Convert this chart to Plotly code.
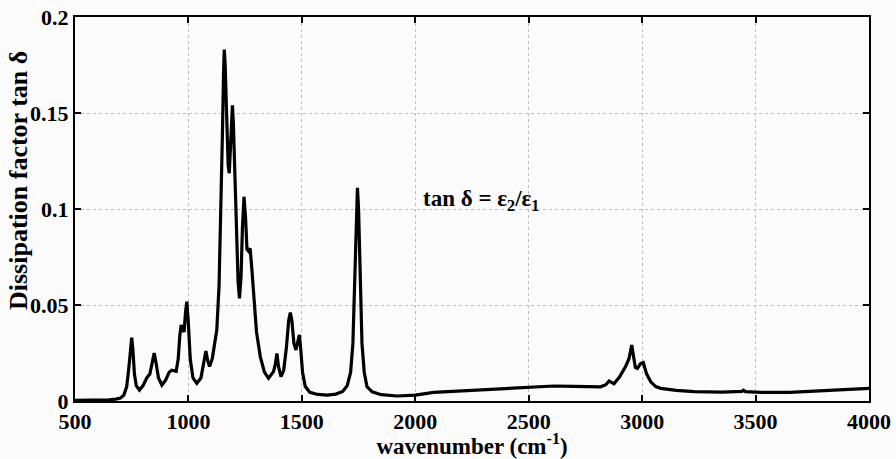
import plotly.graph_objects as go

wavenumber = [500, 600, 650, 680, 700, 715, 728, 738, 745, 750, 755, 762, 770, 784, 800, 816, 830, 840, 849, 857, 868, 883, 900, 915, 927, 946, 955, 962, 968, 976, 981, 987, 993, 999, 1008, 1020, 1037, 1055, 1068, 1077, 1085, 1093, 1105, 1115, 1125, 1135, 1143, 1150, 1155, 1158, 1162, 1168, 1175, 1180, 1186, 1191, 1194, 1198, 1205, 1212, 1219, 1225, 1232, 1238, 1245, 1252, 1258, 1265, 1272, 1280, 1290, 1300, 1317, 1335, 1353, 1375, 1383, 1390, 1397, 1408, 1420, 1432, 1442, 1449, 1456, 1465, 1474, 1482, 1489, 1495, 1503, 1515, 1535, 1570, 1611, 1650, 1680, 1700, 1715, 1725, 1733, 1740, 1745, 1750, 1757, 1765, 1775, 1787, 1810, 1850, 1920, 2000, 2081, 2200, 2376, 2500, 2611, 2700, 2817, 2840, 2854, 2876, 2900, 2927, 2942, 2954, 2962, 2970, 2979, 2993, 3005, 3020, 3038, 3060, 3082, 3150, 3229, 3350, 3440, 3447, 3455, 3523, 3650, 3818, 3900, 4000]
tan_delta = [0.0003, 0.0004, 0.0006, 0.0010, 0.0015, 0.0030, 0.0075, 0.018, 0.029, 0.033, 0.027, 0.014, 0.008, 0.0057, 0.008, 0.012, 0.014, 0.020, 0.025, 0.020, 0.012, 0.0083, 0.011, 0.015, 0.016, 0.0155, 0.022, 0.034, 0.0396, 0.037, 0.036, 0.046, 0.0517, 0.042, 0.022, 0.012, 0.0092, 0.012, 0.020, 0.026, 0.021, 0.018, 0.022, 0.029, 0.037, 0.060, 0.095, 0.14, 0.172, 0.183, 0.175, 0.145, 0.123, 0.1186, 0.135, 0.152, 0.154, 0.145, 0.118, 0.085, 0.062, 0.0535, 0.065, 0.090, 0.1064, 0.095, 0.079, 0.078, 0.0795, 0.068, 0.050, 0.036, 0.023, 0.015, 0.0118, 0.0153, 0.019, 0.0248, 0.018, 0.0127, 0.016, 0.028, 0.042, 0.046, 0.042, 0.030, 0.0266, 0.031, 0.0344, 0.027, 0.015, 0.0075, 0.0045, 0.0034, 0.0031, 0.0036, 0.0050, 0.0080, 0.015, 0.030, 0.060, 0.098, 0.111, 0.100, 0.062, 0.030, 0.015, 0.0075, 0.0048, 0.0033, 0.0026, 0.0031, 0.0045, 0.0052, 0.0062, 0.0068, 0.0078, 0.0076, 0.0074, 0.0085, 0.0104, 0.0090, 0.0125, 0.018, 0.022, 0.0292, 0.023, 0.0175, 0.0170, 0.0195, 0.0200, 0.014, 0.010, 0.0075, 0.0066, 0.0055, 0.0049, 0.0046, 0.0050, 0.0056, 0.0049, 0.0045, 0.0045, 0.0054, 0.0060, 0.0066]

x_ticks = [500, 1000, 1500, 2000, 2500, 3000, 3500, 4000]
x_tick_labels = ["500", "1000", "1500", "2000", "2500", "3000", "3500", "4000"]
y_ticks = [0, 0.05, 0.1, 0.15, 0.2]
y_tick_labels = ["0", "0.05", "0.1", "0.15", "0.2"]

FONT = "Liberation Serif"

fig = go.Figure()
fig.add_trace(go.Scatter(x=wavenumber, y=tan_delta, mode="lines",
                         line=dict(color="black", width=3.2), showlegend=False))

axis_common = dict(
    showline=True, linecolor="black", linewidth=2, mirror="ticks",
    ticks="inside", ticklen=6, tickwidth=2, tickcolor="black",
    showgrid=True, gridcolor="#bdbdbd", gridwidth=1, griddash="dot",
    zeroline=False,
    tickfont=dict(family=FONT, size=22, color="black", weight="bold"),
)

fig.update_xaxes(range=[500, 4000], tickvals=x_ticks, ticktext=x_tick_labels,
                 title=dict(text="wavenumber (cm<sup>-1</sup>)", standoff=1,
                            font=dict(family=FONT, size=23, color="black", weight="bold")),
                 **axis_common)
fig.update_yaxes(range=[0, 0.2], tickvals=y_ticks, ticktext=y_tick_labels,
                 **axis_common)

# y-axis title placed as rotated text (sits above the plot's vertical centre in the reference)
fig.add_annotation(x=-0.072, y=0.575, xref="paper", yref="paper",
                   xanchor="center", yanchor="middle", textangle=-90,
                   text="Dissipation factor tan δ", showarrow=False,
                   font=dict(family=FONT, size=26, color="black", weight="bold"))

fig.add_annotation(x=2023, y=0.1047, xref="x", yref="y", xanchor="left", yanchor="middle",
                   text="tan δ = ε<sub>2</sub>/ε<sub>1</sub>", showarrow=False,
                   font=dict(family=FONT, size=23, color="black", weight="bold"))

fig.update_layout(width=896, height=459,
                  margin=dict(l=75, r=27, t=17, b=58, autoexpand=False),
                  paper_bgcolor="#fbfbfb", plot_bgcolor="#fbfbfb")

fig.write_html("out.html")
